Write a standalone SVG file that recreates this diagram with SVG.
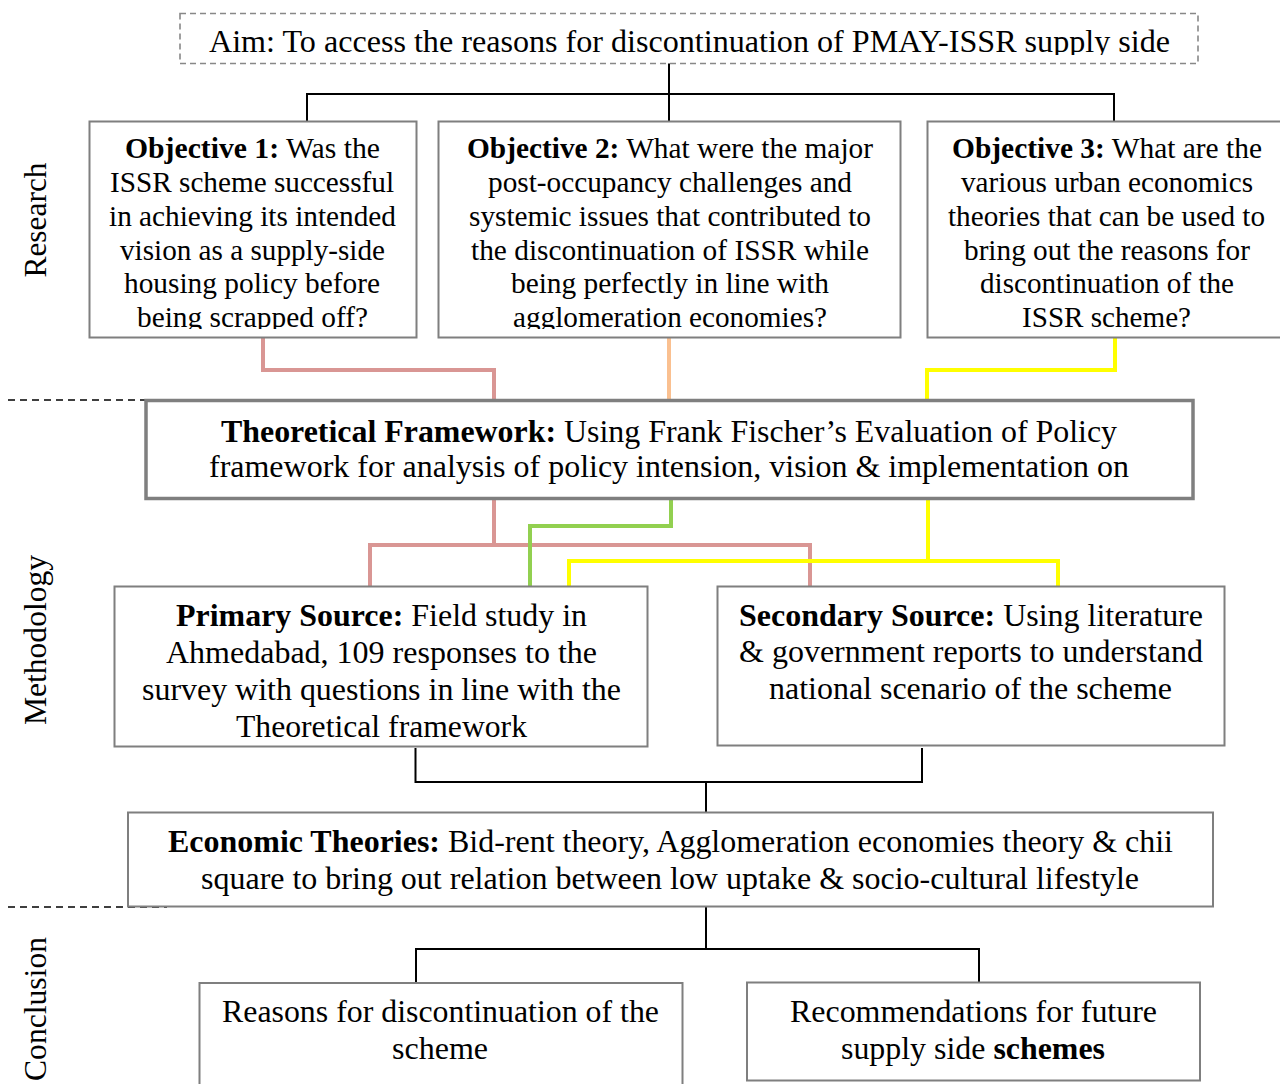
<svg xmlns="http://www.w3.org/2000/svg" width="1280" height="1084" viewBox="0 0 1280 1084">
<defs>
<style>
text{font-family:"Liberation Serif","Times New Roman",serif;fill:#000;text-anchor:middle}
.b{font-weight:bold}
.box{fill:#fff;stroke:#7f7f7f;stroke-width:2}
.tf{fill:#fff;stroke:#7f7f7f;stroke-width:3.5}
.aim{fill:#fff;stroke:#888;stroke-width:1.6;stroke-dasharray:6 4}
.k{fill:none;stroke:#000;stroke-width:2}
.sep{fill:none;stroke:#000;stroke-width:1.6;stroke-dasharray:7 5}
.pk{fill:none;stroke:#D99694;stroke-width:4}
.or{fill:none;stroke:#FAC090;stroke-width:4}
.gr{fill:none;stroke:#92D050;stroke-width:4}
.ye{fill:none;stroke:#FFFF00;stroke-width:4}
.o{font-size:29px}
.m{font-size:31.5px}
.lab{font-size:31.5px}
</style>
<clipPath id="cAim" clipPathUnits="userSpaceOnUse"><rect x="0" y="0" width="1280" height="55"/></clipPath>
<clipPath id="cObj" clipPathUnits="userSpaceOnUse"><rect x="0" y="100" width="1280" height="229"/></clipPath>
</defs>

<g id="section-labels">
<text class="lab" transform="translate(46,220) rotate(-90)" textLength="115" lengthAdjust="spacingAndGlyphs">Research</text>
<text class="lab" transform="translate(46,640) rotate(-90)" textLength="170" lengthAdjust="spacingAndGlyphs">Methodology</text>
<text class="lab" transform="translate(46,1009) rotate(-90)" textLength="144" lengthAdjust="spacingAndGlyphs">Conclusion</text>
<path class="sep" d="M8 400H167"/>
<path class="sep" d="M8 907H167"/>
</g>

<g id="connectors">
<path class="k" d="M669 63V122M307 94H1114M307 93V122M1114 93V122"/>
<path class="pk" d="M263 338V370H494V401"/>
<path class="or" d="M669 338V401"/>
<path class="ye" d="M1115 338V370H927V401"/>
<path class="pk" d="M494 498V545M370 587V545H810V587"/>
<path class="gr" d="M671 498V526H530V587"/>
<path class="ye" d="M928 498V561M569 587V561H1058V587"/>
<path class="k" d="M415.5 748V782H922V748M706 782V813"/>
<path class="k" d="M706 906V949M416 949H980M416 948V988M979 948V988"/>
</g>

<g id="aim">
<rect class="aim" x="180" y="13.5" width="1018" height="50"/>
<text class="m" x="689.5" y="52" clip-path="url(#cAim)" textLength="961" lengthAdjust="spacingAndGlyphs">Aim: To access the reasons for discontinuation of PMAY-ISSR supply side</text>
</g>

<g id="objective1">
<rect class="box" x="89.5" y="121.5" width="327" height="216"/>
<g clip-path="url(#cObj)">
<text class="o" x="252.5" y="158" textLength="255" lengthAdjust="spacingAndGlyphs"><tspan class="b">Objective 1:</tspan> Was the</text>
<text class="o" x="252" y="192" textLength="284" lengthAdjust="spacingAndGlyphs">ISSR scheme successful</text>
<text class="o" x="252.5" y="226" textLength="287" lengthAdjust="spacingAndGlyphs">in achieving its intended</text>
<text class="o" x="252.5" y="260" textLength="265" lengthAdjust="spacingAndGlyphs">vision as a supply-side</text>
<text class="o" x="252" y="293" textLength="256" lengthAdjust="spacingAndGlyphs">housing policy before</text>
<text class="o" x="252.5" y="327" textLength="231" lengthAdjust="spacingAndGlyphs">being scrapped off?</text>
</g>
</g>

<g id="objective2">
<rect class="box" x="438.5" y="121.5" width="462" height="216"/>
<g clip-path="url(#cObj)">
<text class="o" x="670" y="158" textLength="406" lengthAdjust="spacingAndGlyphs"><tspan class="b">Objective 2:</tspan> What were the major</text>
<text class="o" x="670" y="192" textLength="364" lengthAdjust="spacingAndGlyphs">post-occupancy challenges and</text>
<text class="o" x="670" y="226" textLength="402" lengthAdjust="spacingAndGlyphs">systemic issues that contributed to</text>
<text class="o" x="670" y="260" textLength="398" lengthAdjust="spacingAndGlyphs">the discontinuation of ISSR while</text>
<text class="o" x="670" y="293" textLength="318" lengthAdjust="spacingAndGlyphs">being perfectly in line with</text>
<text class="o" x="670" y="327" textLength="314" lengthAdjust="spacingAndGlyphs">agglomeration economies?</text>
</g>
</g>

<g id="objective3">
<rect class="box" x="927.5" y="121.5" width="360" height="216"/>
<g clip-path="url(#cObj)">
<text class="o" x="1107" y="158" textLength="310" lengthAdjust="spacingAndGlyphs"><tspan class="b">Objective 3:</tspan> What are the</text>
<text class="o" x="1107" y="192" textLength="292" lengthAdjust="spacingAndGlyphs">various urban economics</text>
<text class="o" x="1106.5" y="226" textLength="317" lengthAdjust="spacingAndGlyphs">theories that can be used to</text>
<text class="o" x="1107" y="260" textLength="286" lengthAdjust="spacingAndGlyphs">bring out the reasons for</text>
<text class="o" x="1107" y="293" textLength="254" lengthAdjust="spacingAndGlyphs">discontinuation of the</text>
<text class="o" x="1106.5" y="327" textLength="169" lengthAdjust="spacingAndGlyphs">ISSR scheme?</text>
</g>
</g>

<g id="theoretical-framework">
<rect class="tf" x="146" y="400.5" width="1047" height="98"/>
<text class="m" x="669" y="442" textLength="896" lengthAdjust="spacingAndGlyphs"><tspan class="b">Theoretical Framework:</tspan> Using Frank Fischer’s Evaluation of Policy</text>
<text class="m" x="669" y="477" textLength="920" lengthAdjust="spacingAndGlyphs">framework for analysis of policy intension, vision &amp; implementation on</text>
</g>

<g id="primary-source">
<rect class="box" x="114.5" y="586.5" width="533" height="160"/>
<text class="m" x="381.5" y="626" textLength="411" lengthAdjust="spacingAndGlyphs"><tspan class="b">Primary Source:</tspan> Field study in</text>
<text class="m" x="381.5" y="663" textLength="431" lengthAdjust="spacingAndGlyphs">Ahmedabad, 109 responses to the</text>
<text class="m" x="381.5" y="700" textLength="479" lengthAdjust="spacingAndGlyphs">survey with questions in line with the</text>
<text class="m" x="381.5" y="737" textLength="291" lengthAdjust="spacingAndGlyphs">Theoretical framework</text>
</g>

<g id="secondary-source">
<rect class="box" x="717.5" y="586.5" width="507" height="159"/>
<text class="m" x="971" y="626" textLength="464" lengthAdjust="spacingAndGlyphs"><tspan class="b">Secondary Source:</tspan> Using literature</text>
<text class="m" x="971" y="662" textLength="464" lengthAdjust="spacingAndGlyphs">&amp; government reports to understand</text>
<text class="m" x="970.5" y="699" textLength="403" lengthAdjust="spacingAndGlyphs">national scenario of the scheme</text>
</g>

<g id="economic-theories">
<rect class="box" x="128" y="812.5" width="1085" height="94"/>
<text class="m" x="670.5" y="852" textLength="1005" lengthAdjust="spacingAndGlyphs"><tspan class="b">Economic Theories:</tspan> Bid-rent theory, Agglomeration economies theory &amp; chii</text>
<text class="m" x="670" y="889" textLength="938" lengthAdjust="spacingAndGlyphs">square to bring out relation between low uptake &amp; socio-cultural lifestyle</text>
</g>

<g id="reasons">
<rect class="box" x="199.5" y="983" width="483" height="110"/>
<text class="m" x="440.5" y="1022" textLength="437" lengthAdjust="spacingAndGlyphs">Reasons for discontinuation of the</text>
<text class="m" x="440" y="1059" textLength="96" lengthAdjust="spacingAndGlyphs">scheme</text>
</g>

<g id="recommendations">
<rect class="box" x="747" y="982.5" width="453" height="98"/>
<text class="m" x="973.5" y="1022" textLength="367" lengthAdjust="spacingAndGlyphs">Recommendations for future</text>
<text class="m" x="973" y="1059" textLength="264" lengthAdjust="spacingAndGlyphs">supply side <tspan class="b">schemes</tspan></text>
</g>
</svg>
